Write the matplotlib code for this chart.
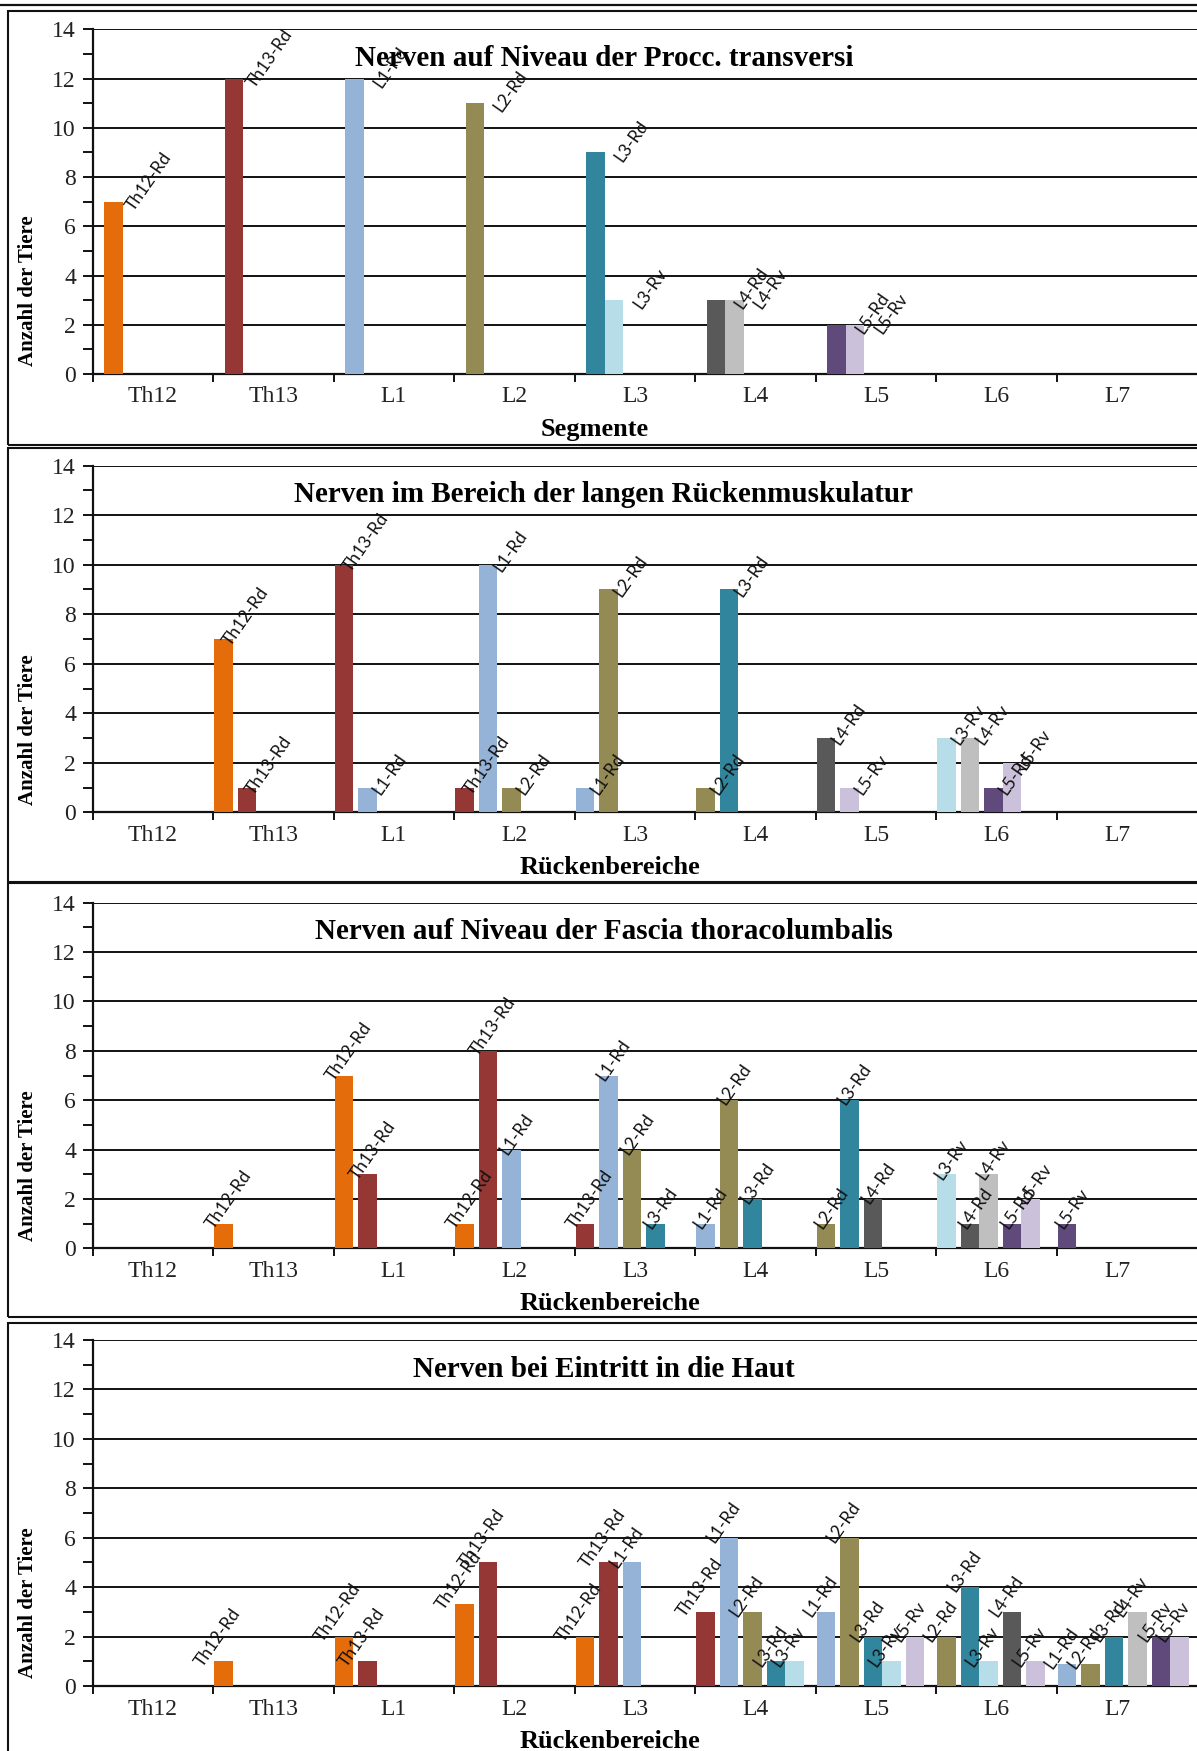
import matplotlib
matplotlib.use("Agg")
import matplotlib.pyplot as plt
from matplotlib.lines import Line2D
from matplotlib.patches import Rectangle

W, H = 1197, 1751

segments = ['Th12', 'Th13', 'L1', 'L2', 'L3', 'L4', 'L5', 'L6', 'L7']

colors = {
    'Th12-Rd': '#E46C0A', 'Th13-Rd': '#953735', 'L1-Rd': '#95B3D7',
    'L2-Rd': '#948A54', 'L3-Rd': '#31859C', 'L3-Rv': '#B7DEE8',
    'L4-Rd': '#595959', 'L4-Rv': '#BFBFBF', 'L5-Rd': '#604A7B',
    'L5-Rv': '#CCC1DA',
}

# Nerven auf Niveau der Procc. transversi
p1_cat = ['Th12', 'Th13', 'L1', 'L2', 'L3', 'L3', 'L4', 'L4', 'L5', 'L5']
p1_series = ['Th12-Rd', 'Th13-Rd', 'L1-Rd', 'L2-Rd', 'L3-Rd', 'L3-Rv',
             'L4-Rd', 'L4-Rv', 'L5-Rd', 'L5-Rv']
p1_labels = list(p1_series)
p1_values = [7, 12, 12, 11, 9, 3, 3, 3, 2, 2]

# Nerven im Bereich der langen Rueckenmuskulatur
p2_cat = ['Th13', 'Th13', 'L1', 'L1', 'L2', 'L2', 'L2', 'L3', 'L3',
          'L4', 'L4', 'L5', 'L5', 'L6', 'L6', 'L6', 'L6']
p2_series = ['Th12-Rd', 'Th13-Rd', 'Th13-Rd', 'L1-Rd', 'Th13-Rd', 'L1-Rd',
             'L2-Rd', 'L1-Rd', 'L2-Rd', 'L2-Rd', 'L3-Rd', 'L4-Rd', 'L5-Rv',
             'L3-Rv', 'L4-Rv', 'L5-Rd', 'L5-Rv']
p2_labels = list(p2_series)
p2_values = [7, 1, 10, 1, 1, 10, 1, 1, 9, 1, 9, 3, 1, 3, 3, 1, 2]

# Nerven auf Niveau der Fascia thoracolumbalis
p3_cat = ['Th13', 'L1', 'L1', 'L2', 'L2', 'L2', 'L3', 'L3', 'L3', 'L3',
          'L4', 'L4', 'L4', 'L5', 'L5', 'L5', 'L6', 'L6', 'L6', 'L6', 'L6',
          'L7']
p3_series = ['Th12-Rd', 'Th12-Rd', 'Th13-Rd', 'Th12-Rd', 'Th13-Rd', 'L1-Rd',
             'Th13-Rd', 'L1-Rd', 'L2-Rd', 'L3-Rd', 'L1-Rd', 'L2-Rd', 'L3-Rd',
             'L2-Rd', 'L3-Rd', 'L4-Rd', 'L3-Rv', 'L4-Rd', 'L4-Rv', 'L5-Rd',
             'L5-Rv', 'L5-Rd']
p3_labels = p3_series[:-1] + ['L5-Rv']
p3_values = [1, 7, 3, 1, 8, 4, 1, 7, 4, 1, 1, 6, 2, 1, 6, 2, 3, 1, 3, 1, 2, 1]

# Nerven bei Eintritt in die Haut
p4_cat = ['Th13', 'L1', 'L1', 'L2', 'L2', 'L3', 'L3', 'L3',
          'L4', 'L4', 'L4', 'L4', 'L4', 'L5', 'L5', 'L5', 'L5', 'L5',
          'L6', 'L6', 'L6', 'L6', 'L6', 'L7', 'L7', 'L7', 'L7', 'L7', 'L7']
p4_series = ['Th12-Rd', 'Th12-Rd', 'Th13-Rd', 'Th12-Rd', 'Th13-Rd',
             'Th12-Rd', 'Th13-Rd', 'L1-Rd',
             'Th13-Rd', 'L1-Rd', 'L2-Rd', 'L3-Rd', 'L3-Rv',
             'L1-Rd', 'L2-Rd', 'L3-Rd', 'L3-Rv', 'L5-Rv',
             'L2-Rd', 'L3-Rd', 'L3-Rv', 'L4-Rd', 'L5-Rv',
             'L1-Rd', 'L2-Rd', 'L3-Rd', 'L4-Rv', 'L5-Rd', 'L5-Rv']
p4_labels = p4_series[:27] + ['L5-Rv', 'L5-Rv']
p4_values = [1, 2, 1, 3.3, 5, 2, 5, 5, 3, 6, 3, 1, 1, 3, 6, 2, 1, 2,
             2, 4, 1, 3, 1, 0.9, 0.9, 2, 3, 2, 2]

panels = [
    ('Nerven auf Niveau der Procc. transversi', 'Segmente',
     p1_cat, p1_series, p1_labels, p1_values),
    ('Nerven im Bereich der langen Rückenmuskulatur', 'Rückenbereiche',
     p2_cat, p2_series, p2_labels, p2_values),
    ('Nerven auf Niveau der Fascia thoracolumbalis', 'Rückenbereiche',
     p3_cat, p3_series, p3_labels, p3_values),
    ('Nerven bei Eintritt in die Haut', 'Rückenbereiche',
     p4_cat, p4_series, p4_labels, p4_values),
]

# layout in pixels from the top left corner
axis_top = [29.3, 465.7, 902.7, 1340.0]
axis_bottom = [374.0, 812.3, 1248.3, 1686.0]
box_top = [10.7, 448.0, 882.7, 1322.7]
box_bottom = [445.0, 881.7, 1316.7, 1800.0]
bar_start = [0.095, 0.01, 0.01, 0.01]
label_dx = [36, 22, 5, -6]
label_dy = [-12, -10, -8, -8]
xlabel_x = [595, 610, 610, 610]
axis_left = 92.7
cat_px = 120.5
bar_w = 0.153
bar_gap = 0.042

serif = 'Liberation Serif'
line_col = '#111111'

fig = plt.figure(figsize=(W / 100, H / 100), dpi=100)


def fx(px):
    return px / W


def fy(py):
    return 1 - py / H


# chart area borders
fig.add_artist(Line2D([0, 1], [fy(4.7), fy(4.7)], color=line_col, lw=1.6))
for t, b in zip(box_top, box_bottom):
    fig.add_artist(Rectangle((fx(8.4), fy(b)), 1.2, fy(t) - fy(b),
                             fill=False, ec=line_col, lw=1.5))


def bar_positions(cats, series, start):
    # bars of one region sit side by side, Rd/Rv of the same nerve touch
    xs = []
    prev_cat, prev_seg, x = None, None, 0
    for c, s in zip(cats, series):
        seg = s.split('-')[0]
        if c != prev_cat:
            x = segments.index(c) + start
        elif seg == prev_seg:
            x += bar_w
        else:
            x += bar_w + bar_gap
        xs.append(x)
        prev_cat, prev_seg = c, seg
    return xs


for i, (title, xlab, cats, series, labels, values) in enumerate(panels):
    top, bot = axis_top[i], axis_bottom[i]
    ax = fig.add_axes([fx(axis_left), fy(bot), 1 - fx(axis_left),
                       (bot - top) / H])
    xs = bar_positions(cats, series, bar_start[i])
    bars = ax.bar(xs, values, width=bar_w, align='edge',
                  color=[colors[s] for s in series], zorder=3)
    for rect, lab in zip(bars, labels):
        ax.annotate(lab, (rect.get_x() + rect.get_width() / 2, rect.get_height()),
                    xytext=(label_dx[i], label_dy[i]), textcoords='offset pixels',
                    rotation=55, ha='center', va='bottom',
                    family='Lato', fontsize=12.5, color='#111111', zorder=4)

    ax.set_xlim(0, (W - axis_left) / cat_px)
    ax.set_ylim(0, 14)
    ax.set_yticks(range(0, 15, 2))
    ax.set_yticks(range(1, 14, 2), minor=True)
    ax.grid(axis='y', which='major', color=line_col, lw=1.4, zorder=1)
    ax.set_xticks(range(0, 9))
    ax.set_xticklabels([])
    ax.set_xticks([k + 0.5 for k in range(9)], minor=True)
    ax.set_xticklabels(segments, minor=True)
    ax.tick_params(axis='x', which='major', direction='out', length=6,
                   width=1.4, color=line_col)
    ax.tick_params(axis='x', which='minor', length=0, pad=9,
                   labelsize=17)
    ax.tick_params(axis='y', which='both', direction='out', length=7,
                   width=1.4, color=line_col, labelsize=17, pad=5)
    for lab in ax.get_xticklabels(minor=True) + ax.get_yticklabels():
        lab.set_family(serif)
        lab.set_color('#222222')
    for side in ['top', 'right']:
        ax.spines[side].set_visible(False)
    for side in ['left', 'bottom']:
        ax.spines[side].set_color(line_col)
        ax.spines[side].set_linewidth(1.6)
    ax.patch.set_alpha(0)

    fig.text(fx(604), fy(top + 29), title, ha='center', va='center',
             family=serif, weight='bold', fontsize=21)
    fig.text(fx(xlabel_x[i]), fy(bot + 55), xlab, ha='center', va='center',
             family=serif, weight='bold', fontsize=19)
    fig.text(fx(28), fy(bot - 83), 'Anzahl der Tiere', rotation=90,
             ha='center', va='center', family=serif, weight='bold',
             fontsize=15)

fig.savefig('out.png', dpi=100)
